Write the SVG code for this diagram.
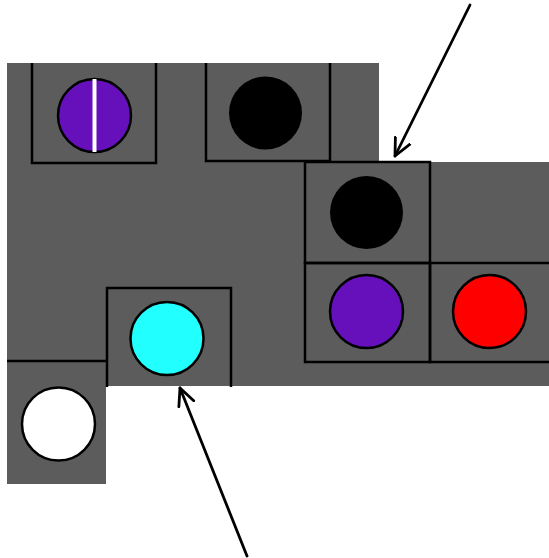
<svg xmlns="http://www.w3.org/2000/svg" width="549" height="558" viewBox="0 0 549 558">
<defs>
<style>
.box{fill:none;stroke:#000;stroke-width:2.5}
.c{stroke:#000;stroke-width:2.5}
.arr{fill:none;stroke:#000;stroke-width:2.8;stroke-linecap:round;stroke-linejoin:round}
</style>
<marker id="ah" viewBox="0 0 20 20" refX="18" refY="10" markerWidth="20" markerHeight="20" markerUnits="userSpaceOnUse" orient="auto">
<path d="M1,2 L18,10 L1,18" fill="none" stroke="#000" stroke-width="2.8" stroke-linecap="round" stroke-linejoin="round"/>
</marker>
</defs>
<rect width="549" height="558" fill="#fff"/>
<path id="floor" d="M7,63 H379 V162 H549 V386 H106 V484 H7 Z" fill="#5c5c5d"/>
<g id="node-purple-split">
<path class="box" d="M32,63 V163 H156 V63"/>
<circle class="c" cx="94.5" cy="115.5" r="36.5" fill="#6610bb"/>
<line x1="94.5" y1="79" x2="94.5" y2="152" stroke="#fff" stroke-width="4"/>
</g>
<g id="node-black-top">
<path class="box" d="M206,63 V161 H330 V63"/>
<circle cx="265.5" cy="113" r="36.5" fill="#000"/>
</g>
<g id="node-black-mid">
<rect class="box" x="305" y="162" width="125" height="101"/>
<circle cx="366.5" cy="212.5" r="36.5" fill="#000"/>
</g>
<g id="node-purple">
<rect class="box" x="305" y="263" width="125" height="99"/>
<circle class="c" cx="366.5" cy="311.5" r="36.5" fill="#6610bb"/>
</g>
<g id="node-red">
<path class="box" d="M549,263 H430 V362 H549"/>
<circle class="c" cx="489.5" cy="311.5" r="36.5" fill="#ff0000"/>
</g>
<g id="node-cyan">
<path class="box" d="M107,387 V288 H231 V387"/>
<circle class="c" cx="167" cy="338.5" r="36.5" fill="#22ffff"/>
</g>
<g id="node-white">
<path class="box" d="M7,361 H107"/>
<circle class="c" cx="58.5" cy="424" r="36.5" fill="#fff"/>
</g>
<g id="connectors">
<line class="arr" x1="470" y1="5" x2="395" y2="156" marker-end="url(#ah)"/>
<line class="arr" x1="247" y1="556" x2="180" y2="388" marker-end="url(#ah)"/>
</g>
</svg>
